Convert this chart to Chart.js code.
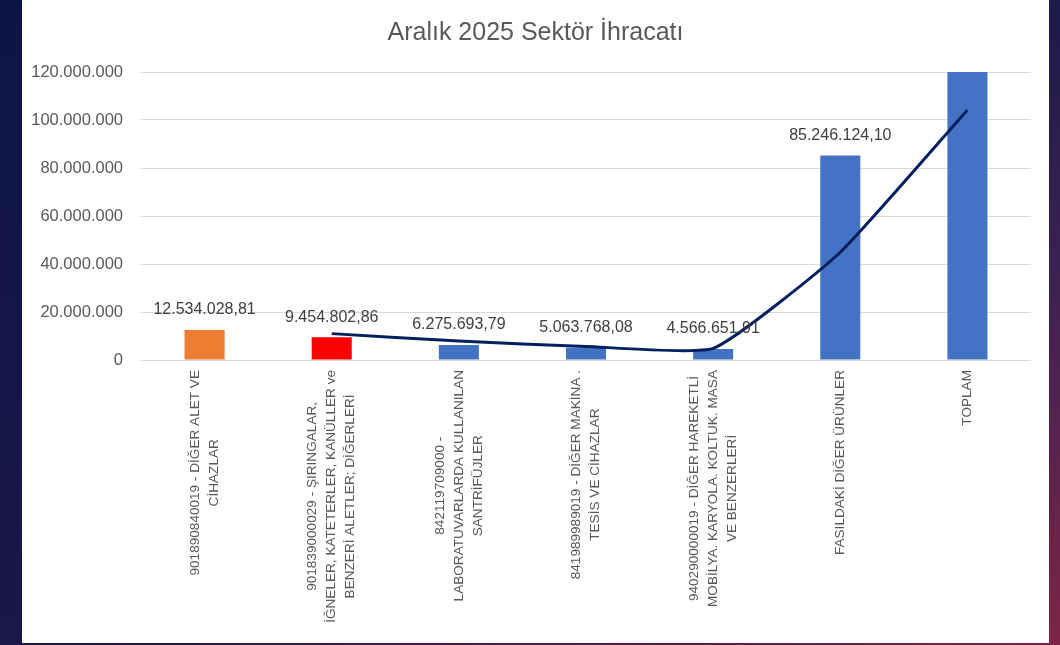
<!DOCTYPE html>
<html>
<head>
<meta charset="utf-8">
<script src="https://cdn.jsdelivr.net/npm/chart.js@4"></script>
<style>
  html, body { margin:0; padding:0; width:1060px; height:645px; overflow:hidden; background:#1a1848; }
  #leftbg { position:absolute; left:0; top:0; width:22px; height:645px; background:linear-gradient(to bottom,#0c1547,#1b1748); }
  #rightbg { position:absolute; left:1049px; top:0; width:11px; height:645px; background:linear-gradient(to bottom,#1c1a4a 0%,#3e2252 45%,#7d2446 100%); }
  #bottombg { position:absolute; left:0; top:643px; width:1060px; height:2px; background:linear-gradient(to right,#1b1748,#7d2446); }
  #wrap { position:absolute; left:22px; top:0; width:1027px; height:643px; background:#ffffff; }
</style>
</head>
<body>
<div id="leftbg"></div><div id="rightbg"></div><div id="bottombg"></div>
<div id="wrap"><canvas id="c" width="1027" height="643"></canvas></div>
<script>
const title = "Aralık 2025 Sektör İhracatı";
const categories = [
  ["901890840019 - DİĞER ALET VE", "CİHAZLAR"],
  ["901839000029 - ŞIRINGALAR,", "İĞNELER, KATETERLER, KANÜLLER ve", "BENZERİ ALETLER; DİĞERLERİ"],
  ["842119709000 -", "LABORATUVARLARDA KULLANILAN", "SANTRİFÜJLER"],
  ["841989989019 - DİĞER MAKİNA .", "TESİS VE CİHAZLAR"],
  ["940290000019 - DİĞER HAREKETLİ", "MOBİLYA. KARYOLA. KOLTUK. MASA", "VE BENZERLERİ"],
  ["FASILDAKİ DİĞER ÜRÜNLER"],
  ["TOPLAM"]
];
const exportValues = [12534028.81, 9454802.86, 6275693.79, 5063768.08, 4566651.91, 85246124.10, 123141069.55];
const valueLabels = ["12.534.028,81", "9.454.802,86", "6.275.693,79", "5.063.768,08", "4.566.651,91", "85.246.124,10", null];
const trendValues = [null, 10990000, 7870000, 5670000, 4820000, 44900000, 104200000];
const yTicks = [0, 20000000, 40000000, 60000000, 80000000, 100000000, 120000000];
const barColors = ["#ED7D31", "#FF0000", "#4472C4", "#4472C4", "#4472C4", "#4472C4", "#4472C4"];

const FONT = "'Liberation Sans', Arial, sans-serif";
const fmtInt = v => String(Math.round(v)).replace(/\B(?=(\d{3})+(?!\d))/g, ".");

const labelPlugin = {
  id: 'valueLabels',
  afterDatasetsDraw(chart) {
    const meta = chart.getDatasetMeta(0);
    const ctx = chart.ctx;
    ctx.save();
    ctx.font = "16px " + FONT;
    ctx.fillStyle = "#404040";
    ctx.textAlign = "center";
    ctx.textBaseline = "middle";
    meta.data.forEach((bar, i) => {
      const t = valueLabels[i];
      if (!t) return;
      ctx.fillText(t, bar.x, bar.y - 20);
    });
    ctx.restore();
  }
};

// vertical category labels, lines centred on each other, placed at the x scale's tick positions
const xLabelPlugin = {
  id: 'xLabels',
  afterDraw(chart) {
    const sx = chart.scales.x;
    const ctx = chart.ctx;
    const lineH = 19;
    ctx.save();
    ctx.font = "13.6px " + FONT;
    ctx.fillStyle = "#595959";
    ctx.textAlign = "center";
    ctx.textBaseline = "middle";
    const top = chart.chartArea.bottom + 10;
    categories.forEach((lines, i) => {
      const x = sx.getPixelForTick(i);
      const w = Math.max(...lines.map(l => ctx.measureText(l).width));
      const cy = top + w / 2;
      ctx.save();
      ctx.translate(x, cy);
      ctx.rotate(-Math.PI / 2);
      const n = lines.length;
      lines.forEach((l, k) => {
        ctx.fillText(l, 0, (k - (n - 1) / 2) * lineH);
      });
      ctx.restore();
    });
    ctx.restore();
  }
};

new Chart(document.getElementById('c'), {
  data: {
    labels: categories,
    datasets: [
      {
        type: 'bar',
        data: exportValues,
        backgroundColor: barColors,
        barPercentage: 0.315,
        categoryPercentage: 1,
        order: 1,
        clip: 0
      },
      {
        type: 'line',
        data: trendValues,
        borderColor: "#002060",
        borderWidth: 3,
        pointRadius: 0,
        tension: 0.15,
        fill: false,
        order: 0
      }
    ]
  },
  plugins: [labelPlugin, xLabelPlugin],
  options: {
    responsive: false,
    animation: false,
    layout: { padding: { left: 0, right: 0, top: 0, bottom: 0 } },
    plugins: {
      legend: { display: false },
      tooltip: { enabled: false },
      title: {
        display: true,
        text: title,
        color: "#595959",
        font: { family: FONT, size: 25, weight: 'normal' },
        padding: { top: 18, bottom: 24 }
      }
    },
    scales: {
      x: {
        grid: { display: false },
        border: { display: false },
        ticks: { display: false, autoSkip: false },
        afterFit: s => { s.height = 283; }
      },
      y: {
        min: 0,
        max: 120000000,
        afterBuildTicks: s => { s.ticks = yTicks.map(v => ({ value: v })); },
        grid: { color: "#D9D9D9", lineWidth: 1, drawTicks: false },
        border: { display: false },
        ticks: {
          color: "#595959",
          font: { family: FONT, size: 16.5 },
          padding: 18,
          callback: v => fmtInt(v)
        },
        afterFit: s => { s.width = 119; }
      },
      yRight: {
        position: 'right',
        display: true,
        grid: { display: false },
        border: { display: false },
        ticks: { display: false },
        afterFit: s => { s.width = 18; }
      }
    }
  }
});
</script>
</body>
</html>
